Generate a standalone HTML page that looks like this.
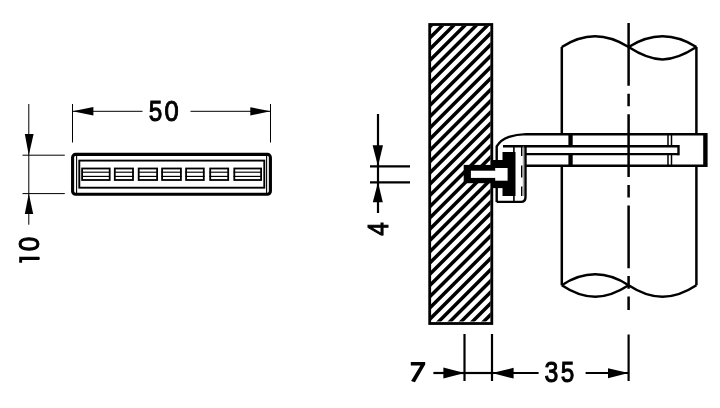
<!DOCTYPE html>
<html><head><meta charset="utf-8">
<style>
html,body{margin:0;padding:0;background:#fff;}
svg{display:block;will-change:transform;}
text{font-family:"Liberation Sans",sans-serif;font-weight:normal;font-size:29px;fill:#000;stroke:#000;stroke-width:1.0;}
</style></head>
<body>
<svg width="720" height="408" viewBox="0 0 720 408">
<defs>
<clipPath id="wallclip"><rect x="430.8" y="25.8" width="59.8" height="295.6"/></clipPath>
</defs>
<rect width="720" height="408" fill="#fff"/>

<!-- ============ LEFT DRAWING ============ -->
<g stroke="#000" fill="none" stroke-width="1">
  <!-- extension lines for 50 -->
  <line x1="72.5" y1="104" x2="72.5" y2="142.5"/>
  <line x1="270.5" y1="104" x2="270.5" y2="142.5"/>
  <!-- dim line 50 -->
  <line x1="72.5" y1="111.3" x2="142.5" y2="111.3"/>
  <line x1="190.5" y1="111.3" x2="270.5" y2="111.3"/>
  <!-- extension lines for 10 -->
  <line x1="22.5" y1="155.2" x2="64.8" y2="155.2"/>
  <line x1="22.5" y1="193.6" x2="64.8" y2="193.6"/>
  <!-- dim line 10 -->
  <line x1="28.8" y1="104" x2="28.8" y2="224.7"/>
</g>
<g fill="#000">
  <polygon points="72.5,111.3 93.4,107.1 93.4,115.5"/>
  <polygon points="270.5,111.3 250.3,107.2 250.3,115.5"/>
  <polygon points="28.8,155.2 24.8,134 33.6,134"/>
  <polygon points="28.8,193.6 24.8,214 33.2,214"/>
</g>
<text transform="translate(155.45,121.1) scale(0.84,1)" text-anchor="middle">5</text><text transform="translate(171.65,121.1) scale(0.88,1)" text-anchor="middle">0</text>
<text transform="translate(39.3,244) rotate(-90) scale(0.9,1)" text-anchor="middle">0</text>
<path d="M19.2,256.8 L39,256.8 Q39.8,256.8 39.8,258.3 Q39.8,259.9 39,259.9 L22.1,259.9 L22.1,262.8 L19.2,262.8 Z" fill="#000"/>

<!-- part -->
<g stroke="#000" fill="none">
  <rect x="72.6" y="154.4" width="197.8" height="39.8" rx="3" stroke-width="3.1"/>
  <line x1="76.6" y1="155.5" x2="76.6" y2="193" stroke-width="1.1"/>
  <line x1="266.6" y1="155.5" x2="266.6" y2="193" stroke-width="1.1"/>
  <rect x="79.3" y="160.6" width="185" height="27.1" stroke-width="1.9"/>
  <g stroke-width="1.8">
    <rect x="82.1" y="168.5" width="27.6" height="11.5"/>
    <rect x="114.8" y="168.5" width="18.2" height="11.5"/>
    <rect x="138.7" y="168.5" width="18.4" height="11.5"/>
    <rect x="162.1" y="168.5" width="18.8" height="11.5"/>
    <rect x="186.1" y="168.5" width="17.7" height="11.5"/>
    <rect x="210.2" y="168.5" width="18" height="11.5"/>
    <rect x="234.3" y="168.5" width="26.8" height="11.5"/>
  </g>
  <g stroke-width="1.15">
    <line x1="82" y1="172.2" x2="110" y2="172.2"/><line x1="82" y1="176.4" x2="110" y2="176.4"/>
    <line x1="114" y1="172.2" x2="133.8" y2="172.2"/><line x1="114" y1="176.4" x2="133.8" y2="176.4"/>
    <line x1="138" y1="172.2" x2="157.9" y2="172.2"/><line x1="138" y1="176.4" x2="157.9" y2="176.4"/>
    <line x1="161.3" y1="172.2" x2="181.7" y2="172.2"/><line x1="161.3" y1="176.4" x2="181.7" y2="176.4"/>
    <line x1="185.3" y1="172.2" x2="204.6" y2="172.2"/><line x1="185.3" y1="176.4" x2="204.6" y2="176.4"/>
    <line x1="209.4" y1="172.2" x2="229" y2="172.2"/><line x1="209.4" y1="176.4" x2="229" y2="176.4"/>
    <line x1="233.5" y1="172.2" x2="261.9" y2="172.2"/><line x1="233.5" y1="176.4" x2="261.9" y2="176.4"/>
  </g>
</g>

<!-- ============ RIGHT DRAWING ============ -->
<!-- wall hatch -->
<g clip-path="url(#wallclip)" stroke="#000" stroke-width="3.5">
  <path d="M424.05,10L94.05,340M435.30,10L105.30,340M446.55,10L116.55,340M457.80,10L127.80,340M469.05,10L139.05,340M480.30,10L150.30,340M491.55,10L161.55,340M502.80,10L172.80,340M514.05,10L184.05,340M525.30,10L195.30,340M536.55,10L206.55,340M547.80,10L217.80,340M559.05,10L229.05,340M570.30,10L240.30,340M581.55,10L251.55,340M592.80,10L262.80,340M604.05,10L274.05,340M615.30,10L285.30,340M626.55,10L296.55,340M637.80,10L307.80,340M649.05,10L319.05,340M660.30,10L330.30,340M671.55,10L341.55,340M682.80,10L352.80,340M694.05,10L364.05,340M705.30,10L375.30,340M716.55,10L386.55,340M727.80,10L397.80,340M739.05,10L409.05,340M750.30,10L420.30,340M761.55,10L431.55,340M772.80,10L442.80,340M784.05,10L454.05,340M795.30,10L465.30,340M806.55,10L476.55,340M817.80,10L487.80,340"/>
</g>
<rect x="429.7" y="24.5" width="62.1" height="299" fill="none" stroke="#000" stroke-width="2.8"/>

<!-- pipe -->
<g stroke="#000" fill="none" stroke-width="2.5">
  <line x1="561.8" y1="47" x2="561.8" y2="134"/>
  <line x1="561.8" y1="166" x2="561.8" y2="285.3"/>
  <line x1="696.4" y1="47" x2="696.4" y2="134"/>
  <line x1="696.4" y1="166" x2="696.4" y2="285.3"/>
  <path d="M561.8,47 C574,39 584,36.2 595,36.2 C606,36.2 616,39 628.6,47 C641,39 651,36.2 662.5,36.2 C674,36.2 684,39 696.4,47"/>
  <path d="M628.6,47 C641,55 651,59.4 662.5,59.4 C674,59.4 684,55 696.4,47"/>
  <path d="M561.8,285.3 C574,277 584,274.3 595.3,274.3 C606,274.3 616,277 628.6,285.3 C641,293.5 651,296.8 662.5,296.8 C674,296.8 684,293.5 696.4,285.3"/>
  <path d="M561.8,285.3 C574,293.5 584,296.8 595.3,296.8 C606,296.8 616,293.5 628.6,285.3"/>
  <!-- centerline -->
  <line x1="628.6" y1="23" x2="628.6" y2="310" stroke-dasharray="62.8 7.9 12.6 7.9"/>
</g>

<!-- bracket arm -->
<g stroke="#000" fill="none" stroke-width="2.4">
  <path d="M496.7,202 L496.7,146.3 C499,142.5 503,138.8 509,136.8 C514,135.2 519,134.4 526,134.1 L706,134.2"/>
  <line x1="503" y1="146.2" x2="678.5" y2="146.2"/>
  <line x1="525.5" y1="154.1" x2="678.5" y2="154.1"/>
  <line x1="678.5" y1="145" x2="678.5" y2="155.3"/>
  <line x1="525.5" y1="165.7" x2="706" y2="165.7"/>
  <path d="M496.7,201.9 L521,201.9 Q525.5,201.9 525.5,197 L525.5,146"/>
</g>
<g fill="#000">
  <rect x="703.2" y="133" width="4.4" height="34"/>
  <rect x="568.4" y="134" width="4.3" height="12"/>
  <rect x="568.4" y="154" width="4.3" height="12"/>
</g>
<g stroke="#000" stroke-width="1.5">
  <line x1="668" y1="134" x2="668" y2="146"/>
  <line x1="671.5" y1="134" x2="671.5" y2="146"/>
  <line x1="668" y1="154" x2="668" y2="166"/>
  <line x1="671.5" y1="154" x2="671.5" y2="166"/>
</g>
<!-- end plate inner lines -->
<g stroke="#000" fill="none">
  <line x1="521.7" y1="146" x2="521.7" y2="196" stroke-width="1.4" stroke-dasharray="10 9.5 12 9 10"/>
  <line x1="523.3" y1="146" x2="523.3" y2="196" stroke-width="0.8" stroke="#777"/>
  <line x1="513.9" y1="146" x2="513.9" y2="202" stroke-width="1.6"/>
</g>
<!-- plug -->
<g fill="#000">
  <rect x="463.7" y="164.9" width="30" height="18.3"/>
  <rect x="493" y="160" width="10" height="28.1"/>
  <rect x="502.5" y="152" width="13" height="44"/>
</g>
<g fill="#fff">
  <rect x="470.9" y="170.7" width="26" height="7.2"/>
  <rect x="495.2" y="168" width="12.4" height="12.7"/>
</g>

<!-- dimension 4 -->
<g stroke="#000" fill="none" stroke-width="2.2">
  <line x1="378" y1="114" x2="378" y2="213"/>
  <line x1="370" y1="166.3" x2="410" y2="166.3"/>
  <line x1="370" y1="182.3" x2="410" y2="182.3"/>
</g>
<g fill="#000">
  <polygon points="378,166.3 372.6,145.3 383,145.3"/>
  <polygon points="378,182.3 372.8,202.3 382.8,202.3"/>
</g>
<text transform="translate(387.8,229) rotate(-90) scale(0.84,1)" text-anchor="middle">4</text>

<!-- bottom dims -->
<g stroke="#000" fill="none" stroke-width="2.2">
  <line x1="464.5" y1="334" x2="464.5" y2="381"/>
  <line x1="492" y1="334" x2="492" y2="381"/>
  <line x1="628.6" y1="334.5" x2="628.6" y2="381"/>
  <line x1="433.4" y1="373" x2="464.5" y2="373"/>
  <line x1="464.5" y1="373" x2="492" y2="373"/>
  <line x1="492" y1="373" x2="538.6" y2="373"/>
  <line x1="585.6" y1="373" x2="628.6" y2="373"/>
</g>
<g fill="#000">
  <polygon points="464.5,373 443.4,367.6 443.4,378.6"/>
  <polygon points="492,373 513.6,367.8 513.6,378.6"/>
  <polygon points="628.6,373 608,368.2 608,378.3"/>
</g>
<path d="M410.8,362.1 L425.2,362.1 L425.2,364.6 L414.9,382.3 L411.1,381 L420.4,365.4 L410.8,365.4 Z" fill="#000"/>
<text transform="translate(551.45,382) scale(0.86,1)" text-anchor="middle">3</text><text transform="translate(567.45,382) scale(0.84,1)" text-anchor="middle">5</text>
</svg>
</body></html>
